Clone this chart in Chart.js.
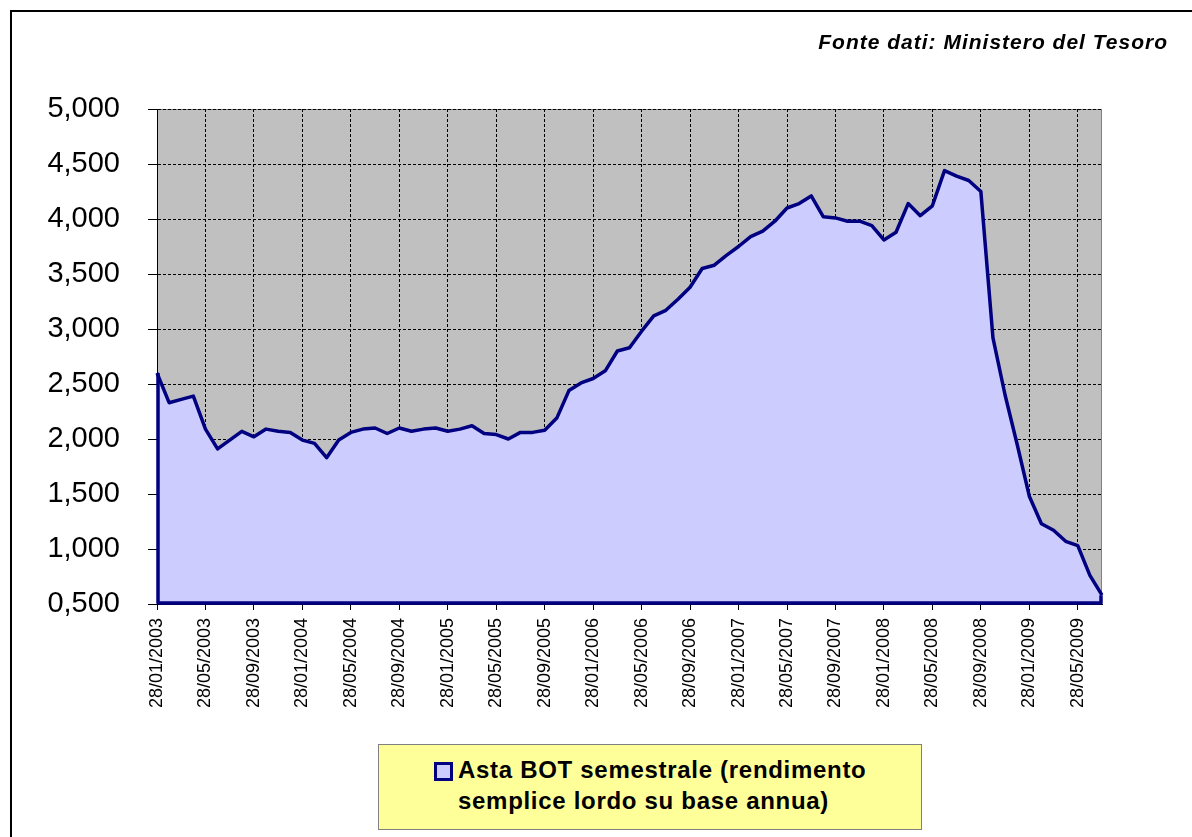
<!DOCTYPE html>
<html>
<head>
<meta charset="utf-8">
<script src="https://cdn.jsdelivr.net/npm/chart.js@4"></script>
<style>
    html, body { margin: 0; padding: 0; background: #fff; overflow: hidden; }
    #wrap { position: relative; width: 1192px; height: 837px; }
    #frame { position: absolute; left: 10px; top: 10px; width: 1300px; height: 1000px; border: 2px solid #000; }
    #chart { position: absolute; left: 0; top: 0; }
    #source {
        position: absolute; right: 24px; top: 30px;
        font: italic bold 21px "Liberation Sans", Arial, sans-serif; letter-spacing: 1px; color: #000;
    }
    #legend {
        position: absolute; left: 378px; top: 744px; width: 542px; height: 84px;
        background: #ffff99; border: 1px solid #808080;
    }
    #legend .mark {
        position: absolute; left: 55px; top: 17px; width: 13px; height: 13px;
        background: #ccccff; border: 3px solid #000080;
    }
    #legend .text {
        position: absolute; left: 79px; top: 9px;
        font: bold 24px "Liberation Sans", Arial, sans-serif; line-height: 31px; letter-spacing: 0.7px; color: #000;
    }
</style>
</head>
<body>
<div id="wrap">
    <div id="frame"></div>
    <canvas id="chart" width="1192" height="837"></canvas>
    <div id="source">Fonte dati: Ministero del Tesoro</div>
    <div id="legend">
        <div class="mark"></div>
        <div class="text">Asta BOT semestrale (rendimento<br>semplice lordo su base annua)</div>
    </div>
</div>
<script>
// Monthly auctions, 28/01/2003 .. 28/07/2009
const firstYear = 2003;
const monthCount = 79;
const dates = [];
for (let i = 0; i < monthCount; i++) {
    const m = i % 12 + 1;
    const y = firstYear + Math.floor(i / 12);
    dates.push('28/' + String(m).padStart(2, '0') + '/' + y);
}

// Rendimento semplice lordo (%)
const rates = [
    2.60, 2.33, 2.36, 2.39, 2.09, 1.91, 1.99, 2.07, 2.02, 2.09, 2.07, 2.06,
    1.99, 1.96, 1.83, 1.99, 2.06, 2.09, 2.10, 2.05, 2.10, 2.07, 2.09, 2.10,
    2.07, 2.09, 2.12, 2.05, 2.04, 2.00, 2.06, 2.06, 2.08, 2.19, 2.44, 2.51,
    2.55, 2.62, 2.80, 2.83, 2.98, 3.12, 3.17, 3.27, 3.38, 3.55, 3.58, 3.67,
    3.75, 3.84, 3.89, 3.98, 4.10, 4.14, 4.21, 4.02, 4.01, 3.98, 3.98, 3.94,
    3.81, 3.88, 4.14, 4.03, 4.12, 4.44, 4.39, 4.35, 4.25, 2.92, 2.40, 1.95,
    1.48, 1.23, 1.17, 1.07, 1.03, 0.76, 0.58
];

const yMin = 0.5;
const yMax = 5.0;
const yStep = 0.5;
const labelEvery = 4;

const FONT = '"Liberation Sans", Arial, sans-serif';
const LINE = '#000080';

// Gray plot background + border
const plotBackground = {
    id: 'plotBackground',
    beforeDraw(chart) {
        const { ctx, chartArea: a } = chart;
        ctx.save();
        ctx.fillStyle = '#c0c0c0';
        ctx.fillRect(a.left, a.top, a.right - a.left, a.bottom - a.top);
        ctx.strokeStyle = '#808080';
        ctx.lineWidth = 1;
        ctx.strokeRect(a.left + 0.5, a.top + 0.5, a.right - a.left - 1, a.bottom - a.top - 1);
        ctx.restore();
    }
};

// Excel-style outline of the area: left edge, baseline, right edge
const areaOutline = {
    id: 'areaOutline',
    afterDatasetsDraw(chart) {
        const { ctx } = chart;
        const xs = chart.scales.x, ys = chart.scales.y;
        const last = rates.length - 1;
        const x0 = xs.getPixelForValue(0), x1 = xs.getPixelForValue(last);
        const base = ys.getPixelForValue(yMin);
        ctx.save();
        ctx.strokeStyle = LINE;
        ctx.lineWidth = 3.5;
        ctx.lineJoin = 'round';
        ctx.beginPath();
        ctx.moveTo(x0 + 1, ys.getPixelForValue(rates[0]));
        ctx.lineTo(x0 + 1, base - 1);
        ctx.lineTo(x1 - 1, base - 1);
        ctx.lineTo(x1 - 1, ys.getPixelForValue(rates[last]));
        ctx.stroke();
        ctx.restore();
    }
};

new Chart(document.getElementById('chart'), {
    type: 'line',
    data: {
        labels: dates,
        datasets: [{
            label: 'Asta BOT semestrale (rendimento semplice lordo su base annua)',
            data: rates,
            borderColor: LINE,
            borderWidth: 3.5,
            backgroundColor: '#ccccff',
            fill: 'start',
            tension: 0,
            pointRadius: 0,
            borderJoinStyle: 'round'
        }]
    },
    options: {
        responsive: false,
        animation: false,
        devicePixelRatio: 1,
        layout: { padding: { top: 109, right: 90, left: 0, bottom: 0 } },
        plugins: { legend: { display: false }, tooltip: { enabled: false } },
        scales: {
            x: {
                offset: false,
                afterFit: (s) => { s.height = 233; },
                border: { display: true, color: '#000', width: 1, dash: [3, 2] },
                grid: {
                    color: (c) => c.index % labelEvery === 0 ? '#000' : 'rgba(0,0,0,0)',
                    tickColor: (c) => c.index % labelEvery === 0 ? '#000' : 'rgba(0,0,0,0)',
                    tickLength: 6,
                    tickBorderDash: [],
                    lineWidth: 1
                },
                ticks: {
                    autoSkip: false,
                    minRotation: 90,
                    maxRotation: 90,
                    padding: 8,
                    color: '#000',
                    font: { family: FONT, size: 18 },
                    callback: function (v, i) { return i % labelEvery === 0 ? dates[i] : ''; }
                }
            },
            y: {
                min: yMin,
                max: yMax,
                afterFit: (s) => { s.width = 157; },
                border: { display: true, color: '#000', width: 1, dash: [3, 2] },
                grid: {
                    color: '#000',
                    tickColor: '#000',
                    tickLength: 9,
                    tickBorderDash: [],
                    lineWidth: 1
                },
                ticks: {
                    stepSize: yStep,
                    padding: 28,
                    color: '#000',
                    font: { family: FONT, size: 29 },
                    callback: (v) => v.toFixed(3).replace('.', ',')
                }
            }
        }
    },
    plugins: [plotBackground, areaOutline]
});
</script>
</body>
</html>
